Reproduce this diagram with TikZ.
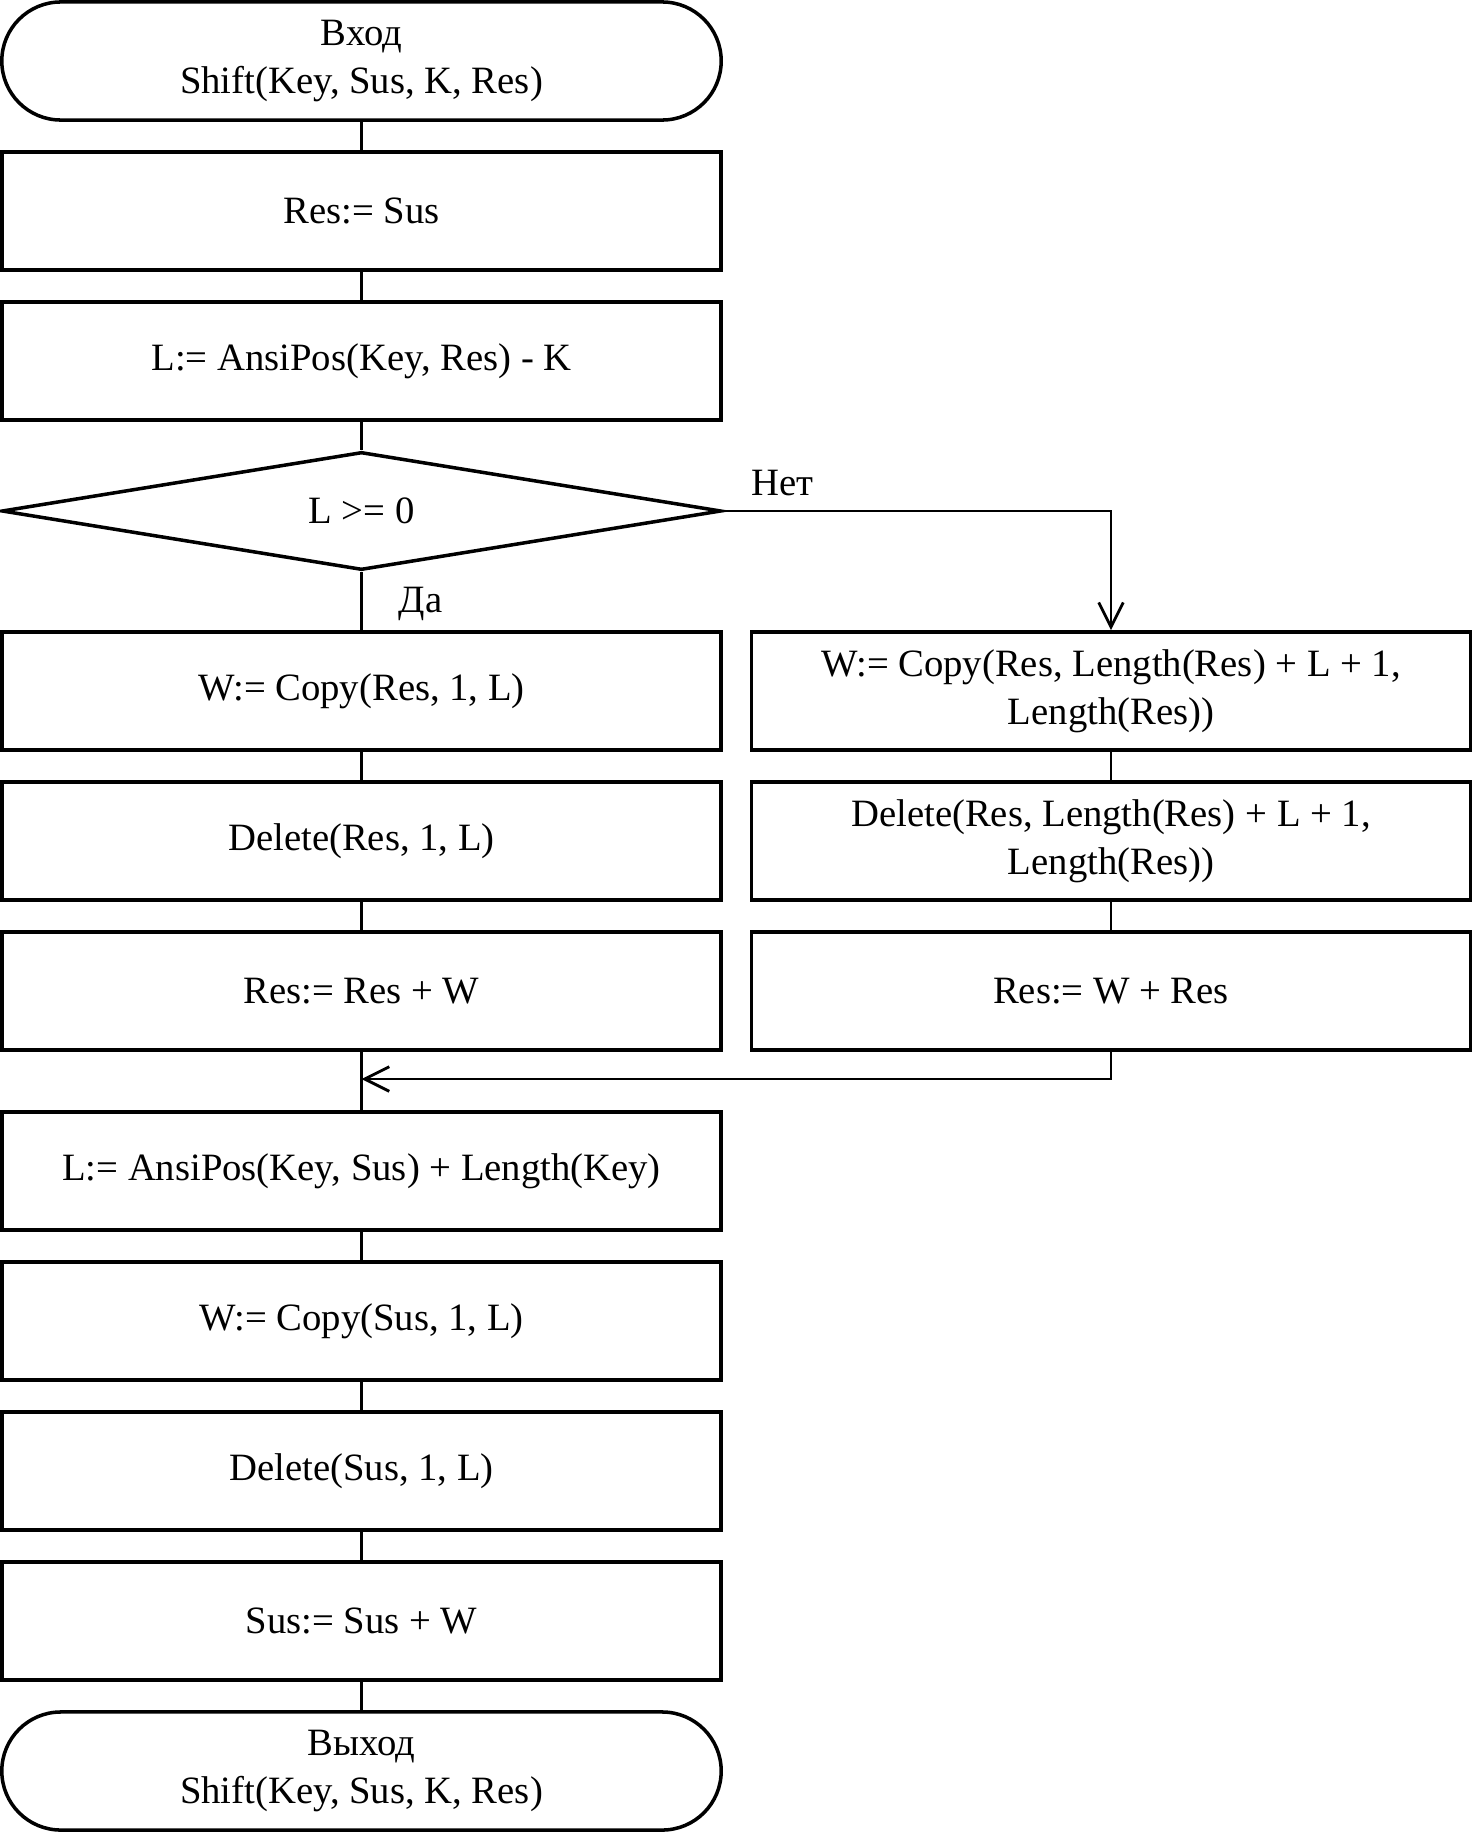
\documentclass[tikz,border=0pt]{standalone}
\usepackage{fontspec}
\setmainfont{Liberation Serif}
\usetikzlibrary{shapes.geometric,arrows.meta}

\tikzset{
	block/.style={rectangle,draw,line width=1pt,minimum width=7.19cm,minimum height=1.18cm,align=center,inner sep=0pt},
	term/.style={block,rounded corners=0.59cm},
	decision/.style={diamond,draw,line width=1pt,shape aspect=6,minimum width=7.19cm,minimum height=1.18cm,inner sep=0pt},
	conn/.style={line width=0.8pt},
	arr/.style={conn,-{Straight Barb[length=7pt,width=7pt]}}
}

\begin{document}
\begin{tikzpicture}[x=0.01cm,y=0.01cm,font=\fontsize{11pt}{13.7pt}\selectfont]

	\useasboundingbox (0,0) rectangle (1476,-1836);

	% main column

	\node[term] (start) at (361.5,-61) {Вход\\Shift(Key, Sus, K, Res)};
	\node[block] (res) at (361.5,-211) {Res:= Sus};
	\node[block] (lpos) at (361.5,-361) {L:= AnsiPos(Key, Res) - K};
	\node[decision] (cond) at (361.5,-511) {L >= 0};

	% branch yes

	\node[block] (wyes) at (361.5,-691) {W:= Copy(Res, 1, L)};
	\node[block] (dyes) at (361.5,-841) {Delete(Res, 1, L)};
	\node[block] (ryes) at (361.5,-991) {Res:= Res + W};

	% branch no

	\node[block] (wno) at (1111,-691) {W:= Copy(Res, Length(Res) + L + 1,\\Length(Res))};
	\node[block] (dno) at (1111,-841) {Delete(Res, Length(Res) + L + 1,\\Length(Res))};
	\node[block] (rno) at (1111,-991) {Res:= W + Res};

	% after the branches

	\node[block] (lsus) at (361.5,-1171) {L:= AnsiPos(Key, Sus) + Length(Key)};
	\node[block] (wsus) at (361.5,-1321) {W:= Copy(Sus, 1, L)};
	\node[block] (dsus) at (361.5,-1471) {Delete(Sus, 1, L)};
	\node[block] (ssus) at (361.5,-1621) {Sus:= Sus + W};
	\node[term] (stop) at (361.5,-1771) {Выход\\Shift(Key, Sus, K, Res)};

	\coordinate (merge) at (361.5,-1079);

	% connectors

	\draw[conn] (start) -- (res);
	\draw[conn] (res) -- (lpos);
	\draw[conn] (lpos) -- (cond);
	\draw[conn] (cond.south) -- (wyes) node[pos=0.55,anchor=west,xshift=0.24cm]{Да};
	\draw[conn] (wyes) -- (dyes);
	\draw[conn] (dyes) -- (ryes);
	\draw[conn] (ryes) -- (lsus);
	\draw[arr] (cond.east) -| (wno.north) node[pos=0.02,anchor=south west,yshift=0.02cm]{Нет};
	\draw[conn] (wno) -- (dno);
	\draw[conn] (dno) -- (rno);
	\draw[arr] (rno.south) |- (merge);
	\draw[conn] (lsus) -- (wsus);
	\draw[conn] (wsus) -- (dsus);
	\draw[conn] (dsus) -- (ssus);
	\draw[conn] (ssus) -- (stop);

\end{tikzpicture}
\end{document}
